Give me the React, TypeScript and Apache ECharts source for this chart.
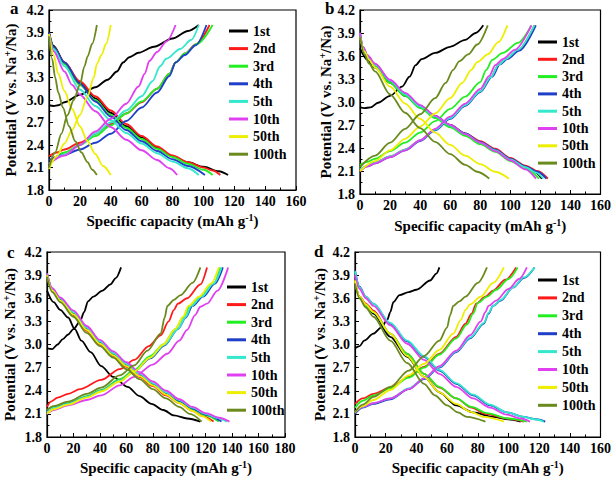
import React, { useEffect, useRef } from "react";
import * as echarts from "echarts";

const CYCLES = ["1st", "2nd", "3rd", "4th", "5th", "10th", "50th", "100th"];
const COLORS = ["#000000", "#ff1a1a", "#22ee22", "#1f3fc8", "#33e8cc", "#e040f0", "#eeee00", "#6a8a1e"];
const PANEL_LETTERS = ["a", "b", "c", "d"];
const X_MAX = [160, 160, 180, 160];
const Y_TICKS = { min: 1.8, max: 4.2, interval: 0.3 };

// ---------- panel a ----------
const aCharge = [
  [[0, 2.93], [3, 2.92], [6, 2.93], [10, 2.97], [20, 3.07], [30, 3.17], [38, 3.27], [44, 3.38], [48, 3.5], [52, 3.57], [58, 3.63], [68, 3.71], [80, 3.82], [90, 3.92], [97, 4.0]],
  [[0, 2.25], [5, 2.3], [10, 2.34], [20, 2.43], [30, 2.55], [40, 2.68], [50, 2.82], [60, 2.97], [70, 3.15], [78, 3.35], [82, 3.5], [88, 3.62], [95, 3.74], [104, 4.0]],
  [[0, 2.15], [10, 2.3], [20, 2.4], [30, 2.52], [40, 2.66], [50, 2.82], [60, 2.98], [70, 3.15], [78, 3.35], [82, 3.5], [88, 3.62], [96, 3.75], [106, 4.0]],
  [[0, 2.2], [10, 2.27], [20, 2.34], [30, 2.43], [40, 2.55], [50, 2.72], [60, 2.9], [70, 3.1], [78, 3.32], [82, 3.5], [88, 3.6], [95, 3.73], [102, 4.0]],
  [[0, 2.15], [10, 2.27], [20, 2.4], [30, 2.55], [40, 2.7], [50, 2.86], [60, 3.05], [67, 3.25], [72, 3.45], [76, 3.55], [85, 3.68], [92, 3.8], [97, 4.0]],
  [[0, 2.15], [10, 2.26], [20, 2.4], [30, 2.58], [40, 2.75], [50, 2.95], [58, 3.18], [62, 3.35], [65, 3.52], [70, 3.64], [76, 3.78], [82, 4.0]],
  [[0, 2.08], [5, 2.25], [10, 2.42], [15, 2.6], [20, 2.8], [25, 3.05], [29, 3.3], [31, 3.48], [34, 3.6], [37, 3.75], [40, 4.0]],
  [[0, 2.1], [4, 2.3], [8, 2.55], [12, 2.8], [16, 3.0], [20, 3.2], [23, 3.45], [25, 3.58], [28, 3.75], [31, 4.0]],
];
const aDischarge = [
  [[0, 3.9], [3, 3.72], [10, 3.5], [20, 3.23], [30, 3.02], [40, 2.83], [50, 2.65], [60, 2.5], [70, 2.36], [80, 2.25], [90, 2.17], [100, 2.11], [110, 2.05], [116, 2.0]],
  [[0, 3.88], [3, 3.7], [10, 3.5], [20, 3.25], [30, 3.05], [40, 2.86], [50, 2.68], [60, 2.52], [70, 2.38], [80, 2.26], [90, 2.17], [100, 2.1], [106, 2.06], [111, 2.0]],
  [[0, 3.88], [3, 3.7], [10, 3.48], [20, 3.2], [30, 3.0], [40, 2.8], [50, 2.63], [60, 2.48], [70, 2.35], [80, 2.24], [90, 2.15], [100, 2.07], [106, 2.0]],
  [[0, 3.9], [3, 3.7], [10, 3.5], [20, 3.22], [30, 2.98], [40, 2.78], [50, 2.6], [60, 2.45], [70, 2.32], [80, 2.21], [90, 2.12], [101, 2.0]],
  [[0, 3.88], [3, 3.68], [10, 3.45], [20, 3.14], [30, 2.92], [40, 2.73], [50, 2.56], [60, 2.42], [70, 2.29], [80, 2.18], [90, 2.09], [97, 2.0]],
  [[0, 3.88], [3, 3.65], [10, 3.38], [15, 3.2], [20, 3.07], [30, 2.85], [40, 2.64], [50, 2.47], [60, 2.33], [70, 2.2], [78, 2.09], [83, 2.0]],
  [[0, 3.88], [3, 3.6], [6, 3.35], [10, 3.12], [15, 2.88], [20, 2.65], [25, 2.45], [30, 2.28], [35, 2.12], [40, 2.0]],
  [[0, 3.85], [2, 3.55], [4, 3.3], [6, 3.1], [9, 2.9], [13, 2.65], [17, 2.45], [21, 2.3], [25, 2.17], [28, 2.07], [31, 2.0]],
];

// ---------- panel b ----------
const bCharge = [
  [[0, 2.93], [3, 2.92], [7, 2.93], [12, 2.99], [20, 3.08], [28, 3.2], [33, 3.33], [37, 3.48], [41, 3.56], [50, 3.64], [60, 3.72], [70, 3.81], [77, 3.9], [82, 4.0]],
  [[0, 2.1], [5, 2.17], [10, 2.21], [20, 2.29], [30, 2.38], [40, 2.5], [50, 2.64], [60, 2.79], [70, 2.96], [80, 3.14], [87, 3.32], [92, 3.48], [97, 3.56], [105, 3.67], [116, 4.0]],
  [[0, 2.18], [5, 2.22], [10, 2.26], [20, 2.36], [30, 2.47], [40, 2.6], [50, 2.75], [60, 2.91], [70, 3.07], [80, 3.26], [84, 3.42], [88, 3.55], [95, 3.64], [105, 3.77], [114, 4.0]],
  [[0, 2.1], [5, 2.16], [10, 2.2], [20, 2.28], [30, 2.37], [40, 2.49], [50, 2.63], [60, 2.78], [70, 2.95], [80, 3.13], [88, 3.33], [93, 3.49], [98, 3.56], [106, 3.67], [117, 4.0]],
  [[0, 2.12], [5, 2.17], [10, 2.21], [20, 2.29], [30, 2.38], [40, 2.5], [50, 2.64], [60, 2.79], [70, 2.96], [80, 3.14], [87, 3.32], [92, 3.48], [97, 3.56], [105, 3.68], [116, 4.0]],
  [[0, 2.1], [5, 2.16], [10, 2.2], [20, 2.28], [30, 2.37], [40, 2.5], [50, 2.65], [60, 2.81], [70, 2.98], [80, 3.17], [86, 3.34], [90, 3.48], [95, 3.56], [103, 3.68], [114, 4.0]],
  [[0, 2.1], [10, 2.23], [20, 2.37], [30, 2.52], [40, 2.68], [50, 2.85], [60, 3.05], [68, 3.25], [74, 3.42], [78, 3.52], [85, 3.62], [92, 3.78], [98, 4.0]],
  [[0, 2.15], [10, 2.3], [20, 2.47], [30, 2.65], [40, 2.84], [50, 3.05], [57, 3.25], [62, 3.42], [66, 3.53], [72, 3.62], [78, 3.75], [85, 4.0]],
];
const bDischarge = [
  [[0, 3.7], [5, 3.55], [10, 3.45], [20, 3.25], [30, 3.08], [40, 2.93], [50, 2.8], [60, 2.68], [70, 2.57], [80, 2.47], [90, 2.37], [100, 2.26], [110, 2.16], [116, 2.09], [121, 2.0]],
  [[0, 3.9], [2, 3.72], [5, 3.6], [10, 3.49], [20, 3.28], [30, 3.11], [40, 2.95], [50, 2.82], [60, 2.7], [70, 2.59], [80, 2.49], [90, 2.39], [100, 2.27], [110, 2.17], [118, 2.1], [125, 2.0]],
  [[0, 3.88], [2, 3.7], [5, 3.58], [10, 3.46], [20, 3.25], [30, 3.08], [40, 2.92], [50, 2.79], [60, 2.67], [70, 2.56], [80, 2.45], [90, 2.35], [100, 2.23], [110, 2.13], [119, 2.0]],
  [[0, 3.9], [2, 3.72], [5, 3.6], [10, 3.49], [20, 3.28], [30, 3.11], [40, 2.95], [50, 2.82], [60, 2.7], [70, 2.59], [80, 2.48], [90, 2.38], [100, 2.26], [110, 2.16], [118, 2.09], [124, 2.0]],
  [[0, 3.9], [2, 3.72], [5, 3.6], [10, 3.49], [20, 3.28], [30, 3.1], [40, 2.94], [50, 2.81], [60, 2.69], [70, 2.58], [80, 2.47], [90, 2.37], [100, 2.25], [110, 2.15], [117, 2.08], [122, 2.0]],
  [[0, 3.9], [2, 3.72], [5, 3.61], [10, 3.5], [20, 3.29], [30, 3.12], [40, 2.96], [50, 2.82], [60, 2.7], [70, 2.58], [80, 2.47], [90, 2.36], [100, 2.24], [110, 2.12], [117, 2.0]],
  [[0, 3.85], [3, 3.66], [6, 3.55], [10, 3.45], [20, 3.2], [30, 2.98], [40, 2.78], [50, 2.6], [60, 2.44], [70, 2.3], [80, 2.19], [90, 2.09], [99, 2.0]],
  [[0, 3.85], [3, 3.62], [6, 3.5], [10, 3.4], [20, 3.1], [30, 2.86], [40, 2.66], [50, 2.48], [60, 2.32], [70, 2.18], [78, 2.09], [86, 2.0]],
];

// ---------- panel c ----------
const cCharge = [
  [[0, 2.95], [4, 2.94], [8, 3.0], [12, 3.07], [16, 3.13], [20, 3.2], [25, 3.3], [28, 3.42], [31, 3.56], [35, 3.62], [42, 3.7], [48, 3.78], [52, 3.86], [56, 4.0]],
  [[0, 2.19], [3, 2.26], [8, 2.31], [16, 2.36], [25, 2.42], [41, 2.54], [55, 2.68], [66, 2.8], [77, 2.98], [86, 3.12], [92, 3.3], [96, 3.45], [99, 3.53], [106, 3.6], [116, 3.78], [121, 4.0]],
  [[0, 2.12], [5, 2.18], [16, 2.24], [30, 2.33], [41, 2.41], [55, 2.55], [66, 2.67], [78, 2.85], [88, 3.0], [97, 3.2], [103, 3.35], [108, 3.5], [116, 3.62], [126, 3.79], [131, 4.0]],
  [[0, 2.12], [5, 2.18], [16, 2.23], [30, 2.32], [41, 2.4], [55, 2.53], [66, 2.65], [78, 2.82], [89, 2.99], [99, 3.2], [105, 3.35], [110, 3.5], [118, 3.62], [127, 3.79], [133, 4.0]],
  [[0, 2.12], [5, 2.18], [16, 2.23], [30, 2.32], [41, 2.4], [55, 2.53], [66, 2.65], [78, 2.83], [89, 3.0], [99, 3.2], [105, 3.36], [109, 3.5], [117, 3.62], [126, 3.79], [132, 4.0]],
  [[0, 2.1], [5, 2.15], [16, 2.21], [30, 2.28], [41, 2.34], [55, 2.47], [66, 2.58], [80, 2.74], [91, 2.88], [100, 3.05], [106, 3.19], [112, 3.38], [116, 3.49], [121, 3.53], [129, 3.7], [137, 4.0]],
  [[0, 2.1], [5, 2.16], [16, 2.22], [30, 2.31], [41, 2.39], [55, 2.52], [66, 2.65], [78, 2.83], [88, 3.0], [97, 3.2], [103, 3.36], [107, 3.5], [115, 3.62], [124, 3.79], [130, 4.0]],
  [[0, 2.15], [5, 2.2], [16, 2.26], [30, 2.36], [41, 2.44], [55, 2.6], [66, 2.73], [76, 2.92], [86, 3.14], [89, 3.35], [91, 3.5], [96, 3.58], [101, 3.64], [110, 3.8], [116, 4.0]],
];
const cDischarge = [
  [[0, 3.7], [5, 3.55], [10, 3.45], [16, 3.35], [21, 3.2], [26, 3.05], [33, 2.9], [41, 2.72], [50, 2.58], [61, 2.45], [70, 2.33], [79, 2.23], [88, 2.15], [96, 2.08], [106, 2.04], [116, 2.0]],
  [[0, 3.9], [4, 3.7], [10, 3.57], [20, 3.38], [30, 3.18], [40, 3.0], [50, 2.85], [60, 2.71], [70, 2.58], [80, 2.46], [90, 2.34], [100, 2.24], [110, 2.14], [118, 2.07], [126, 2.0]],
  [[0, 3.9], [4, 3.71], [10, 3.58], [20, 3.4], [30, 3.2], [40, 3.02], [50, 2.87], [60, 2.73], [70, 2.6], [80, 2.48], [90, 2.36], [100, 2.26], [110, 2.16], [120, 2.08], [130, 2.0]],
  [[0, 3.92], [4, 3.72], [10, 3.59], [20, 3.41], [30, 3.21], [40, 3.03], [50, 2.88], [60, 2.74], [70, 2.61], [80, 2.49], [90, 2.37], [100, 2.27], [110, 2.17], [120, 2.09], [132, 2.0]],
  [[0, 3.92], [4, 3.72], [10, 3.6], [20, 3.42], [30, 3.22], [40, 3.04], [50, 2.89], [60, 2.75], [70, 2.62], [80, 2.5], [90, 2.38], [100, 2.28], [110, 2.18], [120, 2.1], [128, 2.05], [136, 2.0]],
  [[0, 3.92], [4, 3.73], [10, 3.61], [20, 3.44], [30, 3.24], [40, 3.06], [50, 2.91], [60, 2.77], [70, 2.64], [80, 2.52], [90, 2.4], [100, 2.29], [110, 2.19], [120, 2.11], [130, 2.05], [138, 2.0]],
  [[0, 3.9], [4, 3.7], [10, 3.57], [20, 3.39], [30, 3.19], [40, 3.01], [50, 2.86], [60, 2.72], [70, 2.59], [80, 2.47], [90, 2.35], [100, 2.24], [110, 2.14], [117, 2.07], [124, 2.0]],
  [[0, 3.88], [4, 3.68], [10, 3.55], [20, 3.36], [30, 3.15], [40, 2.98], [50, 2.83], [60, 2.68], [70, 2.55], [80, 2.42], [90, 2.3], [100, 2.19], [108, 2.1], [117, 2.0]],
];

// ---------- panel d ----------
const dCharge = [
  [[0, 2.95], [3, 2.98], [6, 3.05], [12, 3.14], [17, 3.22], [21, 3.32], [23, 3.42], [25, 3.55], [29, 3.64], [35, 3.68], [40, 3.71], [49, 3.83], [53, 3.92], [55, 4.0]],
  [[0, 2.23], [5, 2.3], [12, 2.36], [23, 2.44], [35, 2.58], [45, 2.71], [55, 2.88], [66, 3.1], [72, 3.27], [76, 3.4], [79, 3.53], [85, 3.62], [90, 3.7], [98, 3.84], [105, 4.0]],
  [[0, 2.18], [5, 2.27], [12, 2.34], [23, 2.43], [35, 2.57], [45, 2.7], [55, 2.87], [66, 3.08], [73, 3.26], [77, 3.4], [80, 3.54], [86, 3.62], [92, 3.71], [100, 3.85], [106, 4.0]],
  [[0, 2.1], [5, 2.18], [12, 2.23], [23, 2.29], [35, 2.42], [45, 2.55], [55, 2.7], [66, 2.9], [75, 3.08], [84, 3.27], [87, 3.4], [90, 3.5], [95, 3.57], [103, 3.74], [110, 3.86], [117, 4.0]],
  [[0, 2.12], [5, 2.19], [12, 2.24], [23, 2.3], [35, 2.43], [45, 2.56], [55, 2.71], [66, 2.91], [75, 3.09], [84, 3.28], [87, 3.41], [90, 3.5], [95, 3.58], [103, 3.74], [110, 3.87], [117, 4.0]],
  [[0, 2.12], [5, 2.19], [12, 2.24], [23, 2.3], [35, 2.42], [45, 2.56], [55, 2.72], [66, 2.92], [75, 3.12], [82, 3.3], [85, 3.42], [87, 3.5], [92, 3.57], [100, 3.72], [107, 3.85], [112, 4.0]],
  [[0, 2.12], [5, 2.2], [12, 2.28], [23, 2.41], [35, 2.6], [45, 2.75], [55, 2.93], [64, 3.14], [69, 3.32], [72, 3.45], [75, 3.52], [82, 3.62], [90, 3.8], [97, 4.0]],
  [[0, 2.12], [5, 2.22], [12, 2.32], [23, 2.45], [35, 2.66], [45, 2.85], [55, 3.05], [60, 3.22], [62, 3.38], [64, 3.5], [68, 3.56], [72, 3.62], [80, 3.8], [86, 4.0]],
];
const dDischarge = [
  [[0, 3.79], [3, 3.62], [7, 3.52], [12, 3.4], [23, 3.1], [34, 2.84], [45, 2.58], [55, 2.38], [66, 2.21], [77, 2.12], [90, 2.06], [100, 2.03], [108, 2.0]],
  [[0, 3.83], [3, 3.62], [7, 3.53], [12, 3.44], [23, 3.14], [34, 2.88], [45, 2.62], [55, 2.44], [66, 2.3], [76, 2.18], [85, 2.1], [99, 2.04], [110, 2.0]],
  [[0, 3.83], [3, 3.6], [7, 3.5], [12, 3.42], [23, 3.14], [34, 2.88], [45, 2.62], [55, 2.45], [66, 2.3], [76, 2.19], [86, 2.11], [100, 2.04], [112, 2.0]],
  [[0, 3.96], [3, 3.75], [7, 3.62], [12, 3.53], [23, 3.27], [34, 3.04], [45, 2.84], [55, 2.66], [66, 2.49], [77, 2.34], [88, 2.21], [99, 2.12], [110, 2.06], [118, 2.03], [124, 2.0]],
  [[0, 3.95], [3, 3.74], [7, 3.62], [12, 3.53], [23, 3.28], [34, 3.05], [45, 2.85], [55, 2.67], [66, 2.5], [77, 2.35], [88, 2.22], [99, 2.12], [110, 2.06], [117, 2.03], [123, 2.0]],
  [[0, 3.9], [3, 3.72], [7, 3.6], [12, 3.5], [23, 3.25], [34, 3.01], [45, 2.8], [55, 2.62], [66, 2.45], [77, 2.3], [88, 2.18], [99, 2.09], [108, 2.04], [114, 2.0]],
  [[0, 3.83], [3, 3.62], [7, 3.52], [12, 3.42], [23, 3.14], [34, 2.85], [45, 2.58], [55, 2.38], [66, 2.23], [75, 2.13], [84, 2.06], [97, 2.0]],
  [[0, 3.79], [3, 3.6], [7, 3.48], [12, 3.36], [23, 3.05], [34, 2.76], [45, 2.49], [52, 2.34], [60, 2.21], [67, 2.12], [73, 2.06], [85, 2.0]],
];

const PANELS = [
  { charge: aCharge, discharge: aDischarge },
  { charge: bCharge, discharge: bDischarge },
  { charge: cCharge, discharge: cDischarge },
  { charge: dCharge, discharge: dDischarge },
];

const FONT = '"Liberation Serif", "Times New Roman", serif';

const GRIDS = [
  { left: 49, top: 10, width: 247, height: 180 },
  { left: 360, top: 10, width: 243, height: 184 },
  { left: 45, top: 252, width: 240, height: 185 },
  { left: 355, top: 252, width: 246, height: 185 },
];
const Y_NAME_GAP = [30, 25, 29, 27];
const X_NAME_GAP = [22, 23, 22, 22];
const LEGEND_POS = [
  { left: 229, top: 24, gap: 3.6 },
  { left: 538, top: 35, gap: 3.3 },
  { left: 227, top: 280, gap: 3.6 },
  { left: 538, top: 273, gap: 3.9 },
];
const LETTER_POS = [
  { x: 10, y: 0 },
  { x: 325, y: 0 },
  { x: 7, y: 244 },
  { x: 314, y: 243 },
];

const tickStyle = { fontFamily: FONT, fontWeight: "bold", fontSize: 14, color: "#000" };
const nameStyle = { fontFamily: FONT, fontWeight: "bold", fontSize: 15, color: "#000" };
const richSup = { sup: { fontFamily: FONT, fontWeight: "bold", fontSize: 10, color: "#000", padding: [0, 0, 7, 0] } };

export default function App() {
  const ref = useRef<HTMLDivElement>(null);
  useEffect(() => {
    if (!ref.current) return;
    const chart = echarts.init(ref.current, null, { renderer: "svg" });
    const series: any[] = [];
    PANELS.forEach((p, gi) => {
      CYCLES.forEach((name, k) => {
        [p.charge[k], p.discharge[k]].forEach((data) => {
          series.push({
            type: "line",
            name,
            xAxisIndex: gi,
            yAxisIndex: gi,
            data,
            showSymbol: false,
            smooth: 0.3,
            smoothMonotone: "x",
            color: COLORS[k],
            lineStyle: { color: COLORS[k], width: 1.8 },
            itemStyle: { color: COLORS[k] },
            emphasis: { disabled: true },
          });
        });
      });
    });
    const option: any = {
      animation: false,
      backgroundColor: "#fff",
      grid: GRIDS.map((g) => ({ ...g, show: true, borderColor: "#000", borderWidth: 1.2, backgroundColor: "transparent" })),
      xAxis: GRIDS.map((_, i) => ({
        type: "value",
        gridIndex: i,
        min: 0,
        max: X_MAX[i],
        interval: 20,
        name: "Specific capacity (mAh g{sup|-1})",
        nameLocation: "middle",
        nameGap: X_NAME_GAP[i],
        nameTextStyle: { ...nameStyle, rich: richSup },
        axisLine: { show: true, lineStyle: { color: "#000", width: 1.2 } },
        axisTick: { show: true, inside: true, length: 4, lineStyle: { color: "#000" } },
        minorTick: { show: true, splitNumber: 2, length: 2.5, lineStyle: { color: "#000" } },
        splitLine: { show: false },
        axisLabel: { ...tickStyle, margin: 4 },
      })),
      yAxis: GRIDS.map((_, i) => ({
        type: "value",
        gridIndex: i,
        min: Y_TICKS.min,
        max: Y_TICKS.max,
        interval: Y_TICKS.interval,
        name: "Potential (V vs. Na{sup|+}/Na)",
        nameLocation: "middle",
        nameGap: Y_NAME_GAP[i],
        nameTextStyle: { ...nameStyle, rich: richSup },
        axisLine: { show: true, lineStyle: { color: "#000", width: 1.2 } },
        axisTick: { show: true, inside: true, length: 4, lineStyle: { color: "#000" } },
        minorTick: { show: true, splitNumber: 2, length: 2.5, lineStyle: { color: "#000" } },
        splitLine: { show: false },
        axisLabel: { ...tickStyle, margin: 5, formatter: (v: number) => v.toFixed(1) },
      })),
      legend: LEGEND_POS.map((p) => ({
        data: CYCLES,
        orient: "vertical",
        left: p.left,
        top: p.top,
        padding: 0,
        icon: "rect",
        itemWidth: 19,
        itemHeight: 3,
        itemGap: p.gap,
        selectedMode: false,
        textStyle: { ...tickStyle, lineHeight: 14 },
      })),
      graphic: PANELS.map((_, i) => ({
        type: "text",
        left: LETTER_POS[i].x,
        top: LETTER_POS[i].y,
        style: { text: PANEL_LETTERS[i], font: `bold 17px ${FONT}`, fill: "#000" },
      })),
      series,
    };
    chart.setOption(option);
    return () => chart.dispose();
  }, []);
  return <div ref={ref} style={{ position: "absolute", left: 0, top: 0, width: 614, height: 477 }} />;
}
